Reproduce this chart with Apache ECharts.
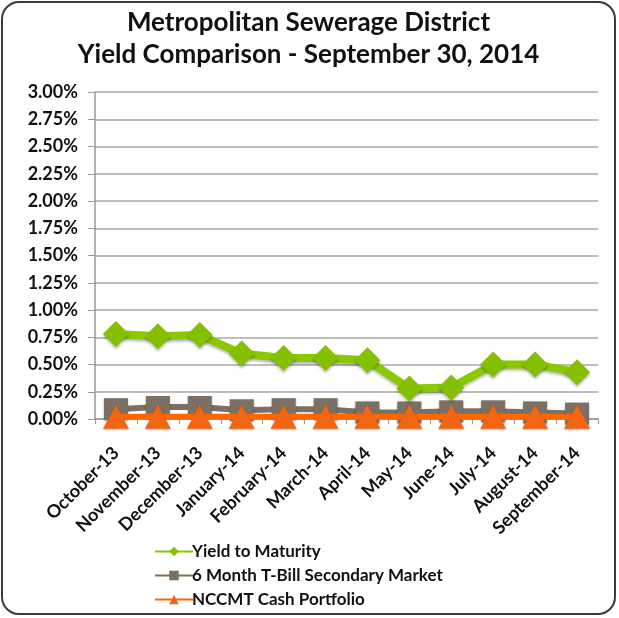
<!DOCTYPE html>
<html>
<head>
<meta charset="utf-8">
<script src="https://cdn.jsdelivr.net/npm/echarts@6/dist/echarts.min.js"></script>
<style>
  html, body { margin: 0; padding: 0; background: #fff; }
  #main {
    position: absolute; left: 1px; top: 1px;
    width: 615px; height: 614px;
    border: 2px solid #3a3a3a; border-radius: 18px;
    box-sizing: border-box;
  }
</style>
</head>
<body>
<div id="main"></div>
<script>
  // 数据
  var months = ["October-13", "November-13", "December-13", "January-14", "February-14", "March-14",
    "April-14", "May-14", "June-14", "July-14", "August-14", "September-14"];
  var yieldToMaturity = [0.78, 0.76, 0.77, 0.60, 0.56, 0.56, 0.54, 0.28, 0.29, 0.50, 0.50, 0.43];
  var tBill = [0.09, 0.11, 0.11, 0.08, 0.09, 0.09, 0.06, 0.06, 0.07, 0.07, 0.06, 0.05];
  var nccmt = [0.02, 0.02, 0.02, 0.02, 0.02, 0.02, 0.02, 0.02, 0.02, 0.02, 0.02, 0.02];

  var font = "Lato, 'Open Sans', sans-serif";
  var myChart = echarts.init(document.getElementById("main"));

  myChart.setOption({
    animation: false,
    textStyle: { fontFamily: font },
    title: {
      text: "Metropolitan Sewerage District\nYield Comparison - September 30, 2014",
      left: "center",
      top: -1,
      textStyle: { fontSize: 26, fontWeight: "bold", color: "#111", lineHeight: 32, fontFamily: font }
    },
    grid: { left: 92, right: 16, top: 89, bottom: 194 },
    legend: {
      orient: "vertical",
      left: 146,
      top: 540,
      height: 100,
      padding: [0, 5],
      itemGap: 7,
      itemWidth: 38,
      itemHeight: 12,
      textStyle: { fontSize: 17, fontWeight: "bold", color: "#111", padding: [0, 0, 0, -6] },
      data: ["Yield to Maturity", "6 Month T-Bill Secondary Market", "NCCMT Cash Portfolio"]
    },
    xAxis: {
      type: "category",
      data: months,
      boundaryGap: true,
      axisLine: { lineStyle: { color: "#999", width: 1.5 } },
      axisTick: { show: true, length: 5, lineStyle: { color: "#999" } },
      axisLabel: { rotate: 45, fontSize: 18, fontWeight: "bold", color: "#111", margin: 31, interval: 0 }
    },
    yAxis: {
      type: "value",
      min: 0,
      max: 3,
      interval: 0.25,
      axisLine: { show: true, lineStyle: { color: "#999", width: 1.5 } },
      axisTick: { show: true, length: 7, lineStyle: { color: "#999" } },
      splitLine: { lineStyle: { color: "#a8a8a8", width: 1.5 } },
      axisLabel: {
        fontSize: 18, fontWeight: "bold", color: "#111", margin: 17,
        formatter: function (v) { return v.toFixed(2) + "%"; }
      }
    },
    series: [
      {
        name: "Yield to Maturity",
        type: "line",
        data: yieldToMaturity,
        symbol: "diamond",
        symbolSize: 26,
        color: "#86c400",
        lineStyle: { width: 8, color: "#8cc800", shadowBlur: 3, shadowColor: "rgba(0,0,0,0.3)", shadowOffsetY: 2 },
        itemStyle: { color: "#82c000", shadowBlur: 3, shadowColor: "rgba(0,0,0,0.3)", shadowOffsetY: 2 },
        z: 3
      },
      {
        name: "6 Month T-Bill Secondary Market",
        type: "line",
        data: tBill,
        symbol: "rect",
        symbolSize: [24, 22],
        color: "#7b7063",
        lineStyle: { width: 6, color: "#7b7063" },
        itemStyle: { color: "#7b7063", shadowBlur: 2, shadowColor: "rgba(0,0,0,0.3)", shadowOffsetY: 1 },
        z: 2
      },
      {
        name: "NCCMT Cash Portfolio",
        type: "line",
        data: nccmt,
        symbol: "triangle",
        symbolSize: [26, 24],
        color: "#ff6a10",
        lineStyle: { width: 6, color: "#ff6600" },
        itemStyle: { color: "#f26512", shadowBlur: 2, shadowColor: "rgba(0,0,0,0.3)", shadowOffsetY: 1 },
        z: 4
      }
    ]
  });
</script>
</body>
</html>
